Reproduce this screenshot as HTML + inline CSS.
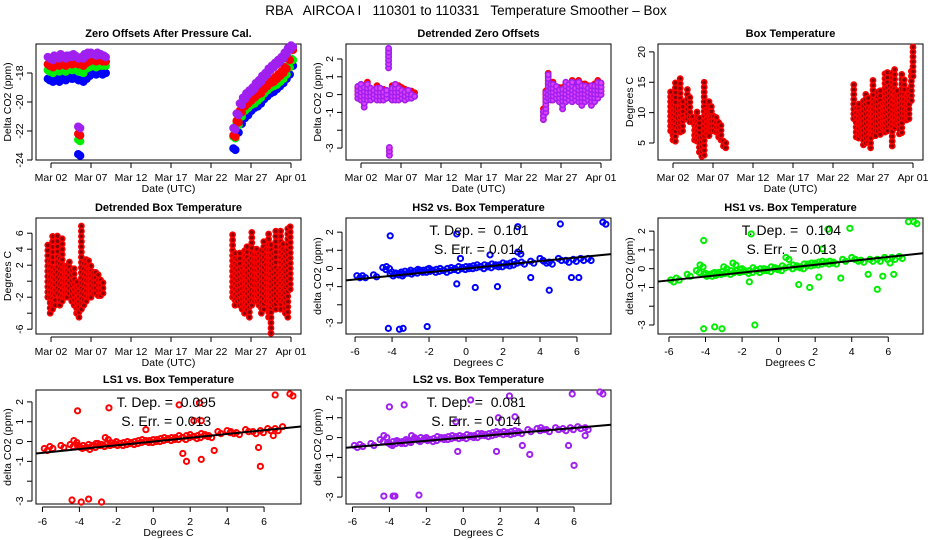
<!DOCTYPE html>
<html><head><meta charset="utf-8">
<style>
html,body{margin:0;padding:0;background:#fff;}
svg{display:block;font-family:"Liberation Sans",sans-serif;}
</style></head>
<body>
<svg id="fig" width="936" height="540" viewBox="0 0 936 540" xmlns="http://www.w3.org/2000/svg">
<text x="466" y="15" text-anchor="middle" font-size="13.5" style="white-space:pre" xml:space="preserve">RBA   AIRCOA I   110301 to 110331   Temperature Smoother – Box</text>
</svg>
<script>
// ---------- data ----------
const dateTickDays = [1,6,11,16,21,26,31];
const dateTickLabels = ["Mar 02","Mar 07","Mar 12","Mar 17","Mar 22","Mar 27","Apr 01"];
const zoDays = [0.6,1.0,1.4,1.8,2.2,2.6,3.0,3.4,3.8,4.2,4.4,4.8,5.2,5.6,6.0,6.4,6.8,7.2,7.6,
                23.8,24.2,24.6,25.0,25.4,25.8,26.2,26.6,27.0,27.4,27.8,28.2,28.6,29.0,29.4,29.8,30.2,30.6,31.0];
const zoBlue = [-18.4,-18.5,-18.3,-18.5,-18.2,-18.4,-18.1,-18.3,-18.2,-18.4,-23.6,-18.5,-18.3,-18.1,-17.9,-18.0,-17.9,-18.0,-17.9,
  -23.2,-22.0,-21.4,-21.0,-20.8,-20.5,-20.3,-20.2,-20.0,-19.7,-19.5,-19.3,-19.2,-19.0,-18.8,-18.6,-18.3,-18.0,-17.4];
const zoGreen = [-17.8,-17.9,-17.7,-17.8,-17.6,-17.8,-17.6,-17.7,-17.6,-17.8,-22.6,-17.9,-17.6,-17.5,-17.4,-17.5,-17.4,-17.4,-17.4,
  -22.4,-21.5,-20.9,-20.5,-20.3,-20.1,-20.0,-19.8,-19.6,-19.3,-19.1,-18.9,-18.8,-18.7,-18.5,-18.3,-18.0,-17.5,-17.0];
const zoRed = [-17.4,-17.5,-17.3,-17.4,-17.2,-17.4,-17.2,-17.3,-17.2,-17.3,-22.2,-17.4,-17.2,-17.1,-17.0,-17.1,-17.0,-17.1,-17.1,
  -22.3,-21.3,-20.6,-20.2,-20.0,-19.8,-19.6,-19.4,-19.3,-19.0,-18.8,-18.6,-18.5,-18.3,-18.1,-17.9,-17.6,-17.0,-16.3];
const zoPurple = [-16.9,-17.0,-16.8,-16.9,-16.7,-16.9,-16.8,-16.8,-16.7,-16.9,-21.7,-16.9,-16.7,-16.6,-16.6,-16.7,-16.6,-16.7,-16.8,
  -21.8,-20.8,-20.1,-19.7,-19.4,-19.2,-19.0,-18.7,-18.5,-18.2,-18.0,-17.7,-17.5,-17.3,-17.1,-16.9,-16.6,-16.3,-16.1];

const dzDays = [0.6,1.0,1.4,1.8,2.2,2.6,3.0,3.4,3.8,4.2,4.45,4.55,4.9,5.3,5.7,6.1,6.5,6.9,7.3,7.7,
  23.8,24.1,24.4,24.7,25.0,25.4,25.8,26.2,26.6,27.0,27.4,27.8,28.2,28.6,29.0,29.4,29.8,30.2,30.6,31.0];
const dzLo = [-0.2,-0.3,-0.7,-0.3,-0.3,-0.2,-0.3,-0.3,-0.3,-0.2,1.5,-3.4,-0.3,-0.3,-0.3,-0.2,-0.3,-0.2,-0.2,-0.1,
  -1.4,-1.0,-0.2,-0.3,-0.3,-0.2,-0.4,-0.8,-0.4,-0.3,-0.4,-0.3,-0.4,-0.6,-0.4,-0.3,-0.6,-0.4,-0.2,0.0];
const dzHi = [0.5,0.6,0.6,0.7,0.4,0.3,0.5,0.4,0.3,0.3,2.6,-2.9,0.5,0.6,0.5,0.4,0.3,0.3,0.2,0.1,
  -0.8,0.2,1.2,0.6,0.7,0.5,0.4,0.4,0.7,0.6,0.8,0.5,0.9,0.6,0.6,0.5,0.5,0.6,0.8,0.7];

const btDays = [0.7,1.0,1.3,1.6,1.9,2.2,2.5,2.8,3.1,3.4,3.7,4.0,4.3,4.6,4.9,5.2,5.5,5.8,6.1,6.4,6.7,7.0,7.3,7.6,
  23.6,23.9,24.2,24.5,24.8,25.1,25.4,25.7,26.0,26.3,26.6,26.9,27.2,27.5,27.8,28.1,28.4,28.7,29.0,29.3,29.6,29.9,30.2,30.5,30.8,31.0];
const btLo = [7,5.5,5.3,7.5,6.8,7,9,9,8.5,8.5,5.5,5.3,3.5,2.8,3,6.5,6.2,7,7,6.8,6,5.5,4.5,4.2,
  9,6,5.8,6.2,4.7,5,5.2,4.2,6.5,6.2,7,6.4,7.5,6.8,7,8,4.5,7.5,8,6.5,6.7,9,8.8,9,12,16];
const btHi = [14,13,15.2,11,16,12,9.5,14.2,13,10,9,10.5,9.5,6,15,11,12.2,11,9.5,9.5,8.5,8,6,5,
  15.3,11.5,12,10.5,12,13,12.5,11,16,12.5,13.5,14,12,16.5,17,14.5,16.8,17.5,14,13,16.5,16,13,14.5,17.5,20.8];

const dbDays = [0.6,0.9,1.2,1.5,1.8,2.1,2.4,2.7,3.0,3.3,3.6,3.9,4.2,4.5,4.8,5.1,5.4,5.7,6.0,6.3,6.6,6.9,7.2,7.5,
  23.7,24.0,24.3,24.6,24.9,25.2,25.5,25.8,26.1,26.4,26.7,27.0,27.3,27.6,27.9,28.2,28.5,28.8,29.1,29.4,29.7,30.0,30.3,30.6,30.9];
const dbLo = [-2,-4,-3.5,-3,-1.5,-3,-2.5,-2,-2,-1.5,-2.5,-3,-4,-4.5,-3.5,-3,-2.5,-2,-2,-1.5,-1.5,-1.8,-1.8,-1.5,
  -2,-3,-2.5,-3,-3.5,-4,-3.5,-4.5,-3,-2.5,-2.5,-3,-4,-3.5,-2.5,-4.5,-6.5,-3,-3.5,-2.5,-3.5,-2.5,-4,-4.5,-1];
const dbHi = [4.5,3,5.8,2,6,3,5.5,2,2,2.5,1.5,2,0.5,0,7.5,2.5,3,3,2,1.5,1.5,1,0.5,0,
  6,4,3,3.5,2,4,4.5,3,6.5,3.5,4.5,3.5,4,5.5,4,6,5,4,6.5,2,6.5,5,4,7,7];

const scX = [-5.9,-5.6,-5.0,-4.5,-4.3,-4.1,-4.0,-3.8,-3.6,-3.5,-3.3,-3.1,-3.0,-2.8,-2.6,-2.5,-2.3,-2.1,-2.0,-1.8,-1.6,-1.4,-1.2,-1.0,-0.8,-0.6,-0.4,-0.2,0.0,0.2,0.4,0.6,0.8,1.0,1.2,1.4,1.6,1.8,2.0,2.2,2.4,2.6,2.8,3.0,3.5,4.0,4.2,4.5,5.0,5.4,5.8,6.2,6.6,7.4];
const hs2Y = [-0.4,-0.4,-0.35,0.05,0.1,-0.3,-0.2,-0.25,-0.3,-0.2,-0.15,-0.2,-0.1,-0.15,-0.05,-0.1,-0.1,-0.05,0.0,-0.1,-0.05,0.0,-0.1,0.0,0.05,0.0,0.1,0.05,0.1,0.1,0.15,0.2,0.1,0.2,0.15,0.25,0.2,0.2,0.3,0.25,0.3,0.4,0.9,0.35,0.4,0.55,0.4,0.35,0.55,0.45,0.5,0.55,0.55,2.55];
const hs1Y = [-0.6,-0.5,-0.3,-0.1,0.2,-0.3,-0.25,-0.3,-0.25,-0.2,-0.2,-0.15,0.1,-0.2,-0.1,0.3,-0.1,-0.05,0.0,-0.15,-0.1,0.05,-0.1,0.0,0.0,-0.05,0.1,0.05,0.0,0.15,0.6,0.1,0.2,0.15,0.1,0.25,0.25,0.3,0.3,0.35,0.4,0.35,0.4,0.35,0.5,0.6,0.5,0.45,0.5,0.5,0.6,0.6,0.65,2.5];
const ls1Y = [-0.35,-0.25,-0.2,-0.15,0.05,-0.2,-0.25,-0.2,-0.3,-0.15,-0.2,-0.1,-0.1,-0.15,0.2,-0.1,-0.05,-0.1,0.0,-0.1,-0.05,0.0,-0.05,0.0,0.05,0.1,0.05,0.05,0.1,0.1,0.15,0.2,0.15,0.2,0.2,0.3,0.2,0.3,0.35,0.25,0.3,0.4,0.35,0.3,0.5,0.55,0.5,0.45,0.6,0.5,0.55,0.65,0.65,2.4];
const ls2Y = [-0.4,-0.35,-0.3,-0.1,0.1,-0.25,-0.3,-0.2,-0.15,-0.2,-0.2,-0.1,-0.15,0.1,-0.05,-0.1,0.0,-0.05,0.0,-0.1,-0.05,0.05,0.0,0.0,0.05,0.1,0.05,0.1,0.05,0.15,0.1,0.1,0.2,0.2,0.15,0.2,0.25,0.3,0.25,0.3,0.25,0.3,0.35,0.3,0.4,0.45,0.5,0.4,0.5,0.45,0.5,0.55,0.5,2.3];
const hs2OutX = [-4.1,-4.2,-3.6,-3.4,-2.1,-0.5,-0.5,0.5,1.7,2.8,3.5,4.5,5.1,5.7,6.1,1.3,-0.3];
const hs2OutY = [1.8,-3.3,-3.35,-3.3,-3.2,1.9,-0.85,-1.05,-1.0,2.3,-0.5,-1.2,2.45,-0.5,-0.5,0.75,0.55];
const hs1OutX = [-4.1,-4.1,-3.5,-3.1,-1.3,-1.5,-1.6,1.1,1.7,2.4,2.7,2.2,3.4,3.9,4.9,5.4,5.7,6.3,6.1,7.1];
const hs1OutY = [1.5,-3.2,-3.1,-3.2,-3.0,1.85,-0.7,-0.85,-1.0,1.05,2.1,-0.45,-0.5,2.15,-0.3,-1.1,-0.4,-0.3,0.3,2.5];
const ls1OutX = [-4.1,-4.4,-3.9,-3.5,-2.8,-2.4,-0.4,1.4,1.8,1.6,2.2,2.5,2.6,2.6,3.3,5.8,5.7,6.5,6.6,7.0];
const ls1OutY = [1.55,-2.95,-3.05,-2.9,-3.05,1.7,0.6,1.85,-1.0,-0.6,1.05,1.95,1.05,-0.9,-0.45,-1.25,-0.3,0.3,2.35,0.75];
const ls2OutX = [-4.0,-4.3,-3.8,-3.7,-3.2,-2.4,-0.4,-0.3,0.4,1.9,1.8,2.5,2.8,3.2,3.6,5.7,6.0,5.9,6.6];
const ls2OutY = [1.55,-2.95,-2.95,-2.95,1.65,-2.9,0.8,-0.7,1.9,1.0,-0.7,2.1,1.05,-0.4,-0.85,-0.4,-1.4,2.2,0.1];
const tDepLabels = ["0.101","0.104","0.095","0.081"];
const sErrLabels = ["0.014","0.013","0.013","0.014"];
const fitSlopes = [0.101,0.104,0.095,0.081];

// ---------- drawing ----------
const NS="http://www.w3.org/2000/svg";
const svg=document.getElementById('fig');
function el(tag,attrs,parent,txt){const e=document.createElementNS(NS,tag);for(const k in attrs)e.setAttribute(k,attrs[k]);if(txt!==undefined)e.textContent=txt;(parent||svg).appendChild(e);return e;}

function panel(name,left,top,xmin,xmax,ymin,ymax,h){
  const right=left+265,bottom=top+(h||116);
  const g=el('g',{});
  
  
  const sx=v=>left+(v-xmin)/(xmax-xmin)*(right-left);
  const sy=v=>bottom-(v-ymin)/(ymax-ymin)*(bottom-top);
  const box=el('rect',{x:left,y:top,width:right-left,height:bottom-top,fill:'none',stroke:'#000','stroke-width':1},g);
  
  
  return {g,sx,sy,left,right,top,bottom};
}
function titleP(p,t){const e=el('text',{x:(p.left+p.right)/2,y:p.top-7,'text-anchor':'middle','font-size':11,'font-weight':'bold'},p.g,t);
  
  }
function xAxis(p,vals,labels,title){
  const ax=el('g',{},p.g);
  
  
  el('line',{x1:p.sx(vals[0]),x2:p.sx(vals[vals.length-1]),y1:p.bottom+3,y2:p.bottom+3,stroke:'#000'},ax);
  vals.forEach((v,i)=>{const x=p.sx(v);
    el('line',{x1:x,x2:x,y1:p.bottom+3,y2:p.bottom+8,stroke:'#000'},ax);
    const t=el('text',{x:x,y:p.bottom+21,'text-anchor':'middle','font-size':10.5},ax,labels[i]);
    
    });
  const t=el('text',{x:(p.left+p.right)/2,y:p.bottom+32,'text-anchor':'middle','font-size':10.5},ax,title);
  
  
}
function yAxis(p,vals,labels,title){
  const ax=el('g',{},p.g);
  
  
  const xl=p.left-4;
  el('line',{x1:xl,x2:xl,y1:p.sy(vals[0]),y2:p.sy(vals[vals.length-1]),stroke:'#000'},ax);
  vals.forEach((v,i)=>{const y=p.sy(v);
    el('line',{x1:xl-5,x2:xl,y1:y,y2:y,stroke:'#000'},ax);
    if(labels[i]!==''){const t=el('text',{x:0,y:0,'text-anchor':'middle','font-size':10.5,transform:`translate(${xl-9},${y}) rotate(-90)`},ax,labels[i]);
    
    }});
  const t=el('text',{x:0,y:0,'text-anchor':'middle','font-size':10.5,transform:`translate(${p.left-25},${(p.top+p.bottom)/2}) rotate(-90)`},ax,title);
  
  
}
function dot(p,x,y,col,fill,r,sw,nm){const c=el('circle',{cx:x,cy:y,r:r,fill:fill,stroke:col,'stroke-width':sw},p.g);
  
  }

// Panel 1
(function(){
  const p=panel('zero-offsets-panel',36,44,-0.875,32.25,-24,-16);
  titleP(p,'Zero Offsets After Pressure Cal.');
  xAxis(p,dateTickDays,dateTickLabels,'Date (UTC)');
  yAxis(p,[-24,-22,-20,-18],['-24','-22','-20','-18'],'Delta CO2 (ppm)');
  const series=[[zoBlue,'#0000ff'],[zoGreen,'#00ee00'],[zoRed,'#ff0000'],[zoPurple,'#a020f0']];
  series.forEach(([arr,col])=>{zoDays.forEach((d,i)=>{
    dot(p,p.sx(d),p.sy(arr[i]),col,col,3.2,2,'offset-point');
    dot(p,p.sx(d)+2,p.sy(arr[i])+1.5,col,col,3.2,2,'offset-point');});});
})();
function rangeDots(p,days,lo,hi,col,fill,step,nm){
  days.forEach((d,i)=>{for(let v=lo[i];v<=hi[i]+1e-9;v+=step){dot(p,p.sx(d),p.sy(v),col,fill,2.6,1.6,nm);}});
}
// Panel 2
(function(){
  const p=panel('detrended-zero-offsets-panel',346,44,-0.875,32.25,-3.67,2.84);
  titleP(p,'Detrended Zero Offsets');
  xAxis(p,dateTickDays,dateTickLabels,'Date (UTC)');
  yAxis(p,[-3,-2,-1,0,1,2],['-3','','-1','0','1','2'],'Delta CO2 (ppm)');
  rangeDots(p,dzDays,dzLo,dzHi,'#ff0000','#ff0000',0.2,'detrended-offset-point');
  rangeDots(p,dzDays,dzLo,dzHi,'#a020f0','#e040ff',0.22,'detrended-offset-point');
})();
// Panel 3
(function(){
  const p=panel('box-temperature-panel',658,44,-0.875,32.25,2.2,21.3);
  titleP(p,'Box Temperature');
  xAxis(p,dateTickDays,dateTickLabels,'Date (UTC)');
  yAxis(p,[5,10,15,20],['5','10','15','20'],'Degrees C');
  rangeDots(p,btDays,btLo,btHi,'#ff0000','#880000',0.8,'box-temp-point');
})();
// Panel 4
(function(){
  const p=panel('detrended-box-temperature-panel',36,218,-0.875,32.25,-6.6,7.9);
  titleP(p,'Detrended Box Temperature');
  xAxis(p,dateTickDays,dateTickLabels,'Date (UTC)');
  yAxis(p,[-6,-4,-2,0,2,4,6],['-6','','-2','','2','4','6'],'Degrees C');
  rangeDots(p,dbDays,dbLo,dbHi,'#ff0000','#880000',0.65,'detrended-box-temp-point');
})();
// Scatter panels
function scatter(name,title,left,top,xmin,xmax,ymin,ymax,ys,ox,oy,col,k,h){
  const p=panel(name,left,top,xmin,xmax,ymin,ymax,h);
  titleP(p,title);
  xAxis(p,[-6,-4,-2,0,2,4,6],['-6','-4','-2','0','2','4','6'],'Degrees C');
  yAxis(p,[-3,-2,-1,0,1,2],['-3','','-1','0','1','2'],'delta CO2 (ppm)');
  scX.forEach((x,i)=>{dot(p,p.sx(x),p.sy(ys[i]),col,'none',2.6,2,'scatter-point');
    dot(p,p.sx(x)+3,p.sy(ys[i])+2,col,'none',2.6,2,'scatter-point');});
  ox.forEach((x,i)=>dot(p,p.sx(x),p.sy(oy[i]),col,'none',2.6,2,'outlier-point'));
  const s=fitSlopes[k];
  const ln=el('line',{x1:p.left,y1:p.sy(s*xmin),x2:p.right,y2:p.sy(s*xmax),stroke:'#000','stroke-width':2},p.g);
  
  
  const cx=p.sx(0.7);
  const t1=el('text',{x:cx,y:p.top+17,'text-anchor':'middle','font-size':14,style:'white-space:pre'},p.g,'T. Dep. =  '+tDepLabels[k]);
  
  
  const t2=el('text',{x:cx,y:p.top+36,'text-anchor':'middle','font-size':14},p.g,'S. Err. = '+sErrLabels[k]);
  
  
}
scatter('hs2-scatter-panel','HS2 vs. Box Temperature',346,218,-6.49,7.84,-3.61,2.78,hs2Y,hs2OutX,hs2OutY,'#0000ff',0);
scatter('hs1-scatter-panel','HS1 vs. Box Temperature',658,218,-6.6,7.9,-3.48,2.7,hs1Y,hs1OutX,hs1OutY,'#00ee00',1);
scatter('ls1-scatter-panel','LS1 vs. Box Temperature',36,390,-6.35,8.0,-3.15,2.6,ls1Y,ls1OutX,ls1OutY,'#ff0000',2,114);
scatter('ls2-scatter-panel','LS2 vs. Box Temperature',346,390,-6.35,8.0,-3.35,2.4,ls2Y,ls2OutX,ls2OutY,'#a020f0',3,114);
</script>
</body></html>
